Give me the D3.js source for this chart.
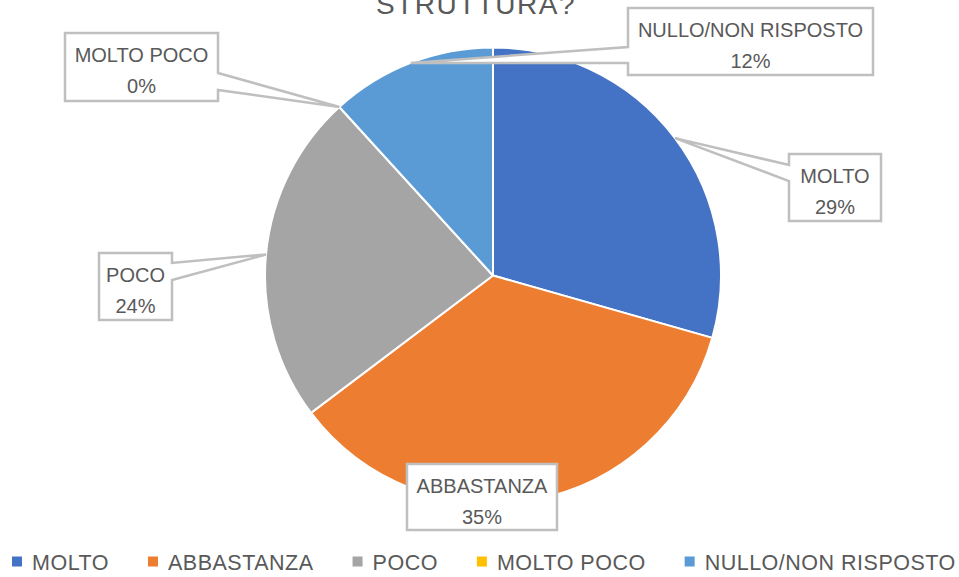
<!DOCTYPE html>
<html>
<head>
<meta charset="utf-8">
<script src="https://cdn.jsdelivr.net/npm/d3@7"></script>
<style>
  html, body { margin: 0; padding: 0; background: #fff; }
  svg { display: block; font-family: "Liberation Sans", Arial, sans-serif; }
</style>
</head>
<body>
<div id="chart"></div>
<script>
// Pie chart: answers to "...STRUTTURA?"
const categories = ["MOLTO", "ABBASTANZA", "POCO", "MOLTO POCO", "NULLO/NON RISPOSTO"];
const values = [5, 6, 4, 0, 2];   // answers count (29%, 35%, 24%, 0%, 12%)
const colors = ["#4472C4", "#ED7D31", "#A5A5A5", "#FFC000", "#5B9BD5"];
const titleText = "STRUTTURA?";

// Callout boxes (layout only): centre, size, which side the pointer leaves from, pointer base offsets
const callouts = {
  "MOLTO":              { cx: 835,   cy: 187.5, w: 92,  h: 67, side: "left",  b0: 11, b1: 27 },
  "ABBASTANZA":         { cx: 482,   cy: 497,   w: 150, h: 66, side: null },
  "POCO":               { cx: 135.5, cy: 286.5, w: 73,  h: 67, side: "right", b0: 10, b1: 27 },
  "MOLTO POCO":         { cx: 141.5, cy: 67,    w: 153, h: 68, side: "right", b0: 40, b1: 57 },
  "NULLO/NON RISPOSTO": { cx: 750.5, cy: 41.5,  w: 245, h: 67, side: "left",  b0: 39, b1: 55 }
};

const width = 959, height = 577;
const cx = 493, cy = 275.5, radius = 228;
const textColor = "#595959", boxStroke = "#BFBFBF";

const svg = d3.select("#chart")
  .append("svg")
    .attr("width", width)
    .attr("height", height)
    .attr("viewBox", [0, 0, width, height]);

// Title (mostly cut off at the top, as in the original)
svg.append("text")
    .attr("x", 476)
    .attr("y", 14)
    .attr("text-anchor", "middle")
    .attr("font-size", "28px")
    .attr("letter-spacing", "1.5px")
    .attr("fill", textColor)
    .text(titleText);

const data = categories.map((c, i) => ({ name: c, value: values[i], color: colors[i] }));
const total = d3.sum(values);

const pie = d3.pie()
    .sort(null)
    .value(d => d.value);
const arcs = pie(data);

const arc = d3.arc()
    .innerRadius(0)
    .outerRadius(radius);

const g = svg.append("g")
    .attr("transform", `translate(${cx},${cy})`);

g.selectAll("path")
  .data(arcs)
  .enter()
  .append("path")
    .attr("d", arc)
    .attr("fill", d => d.data.color)
    .attr("stroke", "white")
    .attr("stroke-width", 2)
    .attr("stroke-linejoin", "round");

// point on the rim at the middle of a slice
function rimPoint(d) {
  const a = (d.startAngle + d.endAngle) / 2;
  return [cx + radius * Math.sin(a), cy - radius * Math.cos(a)];
}

// box outline with a wedge pointing at the slice
function calloutPath(c, tip) {
  const x0 = c.cx - c.w / 2, x1 = c.cx + c.w / 2;
  const y0 = c.cy - c.h / 2, y1 = c.cy + c.h / 2;
  const p = d3.path();
  if (c.side === "left") {
    p.moveTo(x0, y0 + c.b0);
    p.lineTo(x0, y0); p.lineTo(x1, y0); p.lineTo(x1, y1); p.lineTo(x0, y1);
    p.lineTo(x0, y0 + c.b1);
    p.lineTo(tip[0], tip[1]);
  } else if (c.side === "right") {
    p.moveTo(x1, y0 + c.b1);
    p.lineTo(x1, y1); p.lineTo(x0, y1); p.lineTo(x0, y0); p.lineTo(x1, y0);
    p.lineTo(x1, y0 + c.b0);
    p.lineTo(tip[0], tip[1]);
  } else {
    p.rect(x0, y0, c.w, c.h);
  }
  p.closePath();
  return p.toString();
}

const labels = svg.append("g")
  .selectAll("g")
  .data(arcs)
  .enter()
  .append("g");

labels.append("path")
    .attr("d", d => calloutPath(callouts[d.data.name], rimPoint(d)))
    .attr("fill", "white")
    .attr("stroke", boxStroke)
    .attr("stroke-width", 2.5)
    .attr("stroke-linejoin", "miter");

labels.append("text")
    .attr("x", d => callouts[d.data.name].cx)
    .attr("y", d => callouts[d.data.name].cy - callouts[d.data.name].h / 2 + 28.5)
    .attr("text-anchor", "middle")
    .attr("font-size", "20px")
    .attr("fill", textColor)
    .text(d => d.data.name);

labels.append("text")
    .attr("x", d => callouts[d.data.name].cx)
    .attr("y", d => callouts[d.data.name].cy - callouts[d.data.name].h / 2 + 60)
    .attr("text-anchor", "middle")
    .attr("font-size", "20px")
    .attr("fill", textColor)
    .text(d => d3.format(".0%")(d.data.value / total));

// Legend along the bottom
const legend = svg.append("g")
    .attr("transform", "translate(12,570)");
let lx = 0;
data.forEach(d => {
  const item = legend.append("g").attr("transform", `translate(${lx},0)`);
  item.append("rect")
      .attr("x", 0)
      .attr("y", -13.5)
      .attr("width", 10)
      .attr("height", 10)
      .attr("fill", d.color);
  const t = item.append("text")
      .attr("x", 20)
      .attr("y", 0)
      .attr("font-size", "21.5px")
      .attr("letter-spacing", "0.5px")
      .attr("fill", textColor)
      .text(d.name);
  lx += 20 + t.node().getComputedTextLength() + 39;
});
</script>
</body>
</html>
